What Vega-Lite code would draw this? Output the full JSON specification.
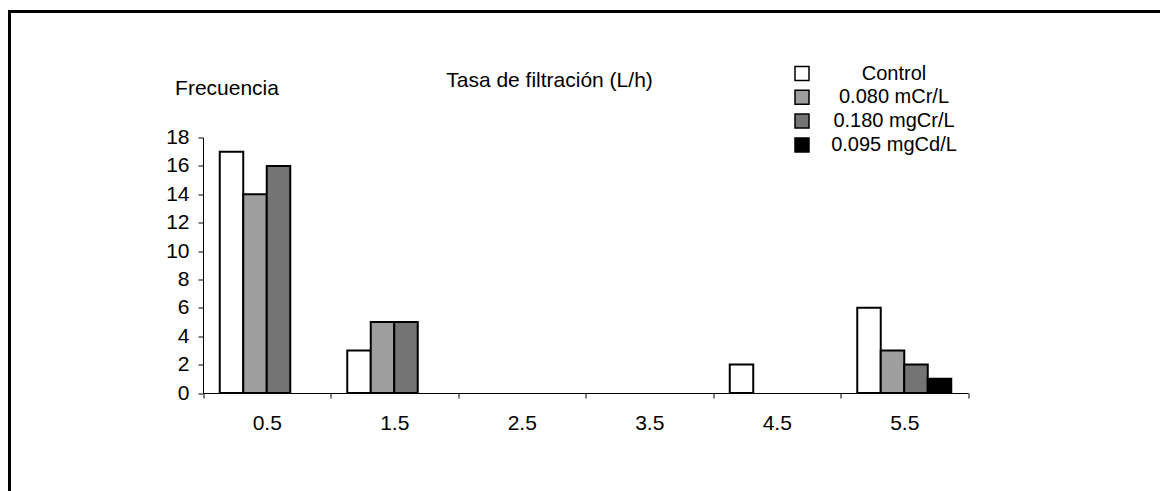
{
  "$schema": "https://vega.github.io/schema/vega-lite/v6.json",
  "width": 1165,
  "height": 495,
  "autosize": {"type": "none"},
  "padding": {"left": 9.5, "top": 11.5, "right": -14.5, "bottom": -15.5},
  "background": "white",
  "config": {
    "font": "Liberation Sans",
    "view": {"stroke": "black", "strokeWidth": 3, "fill": "white"}
  },
  "title": {
    "text": "Tasa de filtración (L/h)",
    "font": "Liberation Sans",
    "fontSize": 21,
    "fontWeight": "normal",
    "color": "black",
    "anchor": "start",
    "align": "center",
    "frame": "group",
    "offset": 0,
    "baseline": "middle",
    "dx": 540,
    "dy": 90.5
  },
  "data": {
    "values": [
      {"tasa": "0.5", "serie": "Control", "frecuencia": 17},
      {"tasa": "0.5", "serie": "0.080 mCr/L", "frecuencia": 14},
      {"tasa": "0.5", "serie": "0.180 mgCr/L", "frecuencia": 16},
      {"tasa": "1.5", "serie": "Control", "frecuencia": 3},
      {"tasa": "1.5", "serie": "0.080 mCr/L", "frecuencia": 5},
      {"tasa": "1.5", "serie": "0.180 mgCr/L", "frecuencia": 5},
      {"tasa": "4.5", "serie": "Control", "frecuencia": 2},
      {"tasa": "5.5", "serie": "Control", "frecuencia": 6},
      {"tasa": "5.5", "serie": "0.080 mCr/L", "frecuencia": 3},
      {"tasa": "5.5", "serie": "0.180 mgCr/L", "frecuencia": 2},
      {"tasa": "5.5", "serie": "0.095 mgCd/L", "frecuencia": 1}
    ]
  },
  "mark": {"type": "bar", "stroke": "black", "strokeWidth": 2},
  "encoding": {
    "x": {
      "field": "tasa",
      "type": "nominal",
      "sort": null,
      "scale": {
        "domain": ["0.5", "1.5", "2.5", "3.5", "4.5", "5.5"],
        "range": [193.5, 958.5],
        "paddingInner": 0,
        "paddingOuter": 0
      },
      "axis": {
        "orient": "bottom",
        "offset": -113.5,
        "title": null,
        "labelAngle": 0,
        "tickBand": "extent",
        "tickSize": 5,
        "tickColor": "black",
        "domainColor": "black",
        "labelFontSize": 21,
        "labelColor": "black",
        "labelPadding": 14
      }
    },
    "xOffset": {
      "field": "serie",
      "type": "nominal",
      "sort": null,
      "scale": {
        "domain": ["Control", "0.080 mCr/L", "0.180 mgCr/L", "0.095 mgCd/L"],
        "paddingInner": 0,
        "paddingOuter": 0.713
      }
    },
    "y": {
      "field": "frecuencia",
      "type": "quantitative",
      "scale": {"domain": [0, 18], "range": [381.5, 126], "nice": false},
      "axis": {
        "orient": "left",
        "offset": -193.5,
        "values": [0, 2, 4, 6, 8, 10, 12, 14, 16, 18],
        "grid": false,
        "tickSize": 5,
        "tickColor": "black",
        "domainColor": "black",
        "labelFontSize": 21,
        "labelColor": "black",
        "labelPadding": 9,
        "title": "Frecuencia",
        "titleFontSize": 21,
        "titleFontWeight": "normal",
        "titleColor": "black",
        "titleAngle": 0,
        "titleAlign": "center",
        "titleBaseline": "middle",
        "titleX": 23.5,
        "titleY": 76.5
      }
    },
    "fill": {
      "field": "serie",
      "type": "nominal",
      "scale": {
        "domain": ["Control", "0.080 mCr/L", "0.180 mgCr/L", "0.095 mgCd/L"],
        "range": ["#ffffff", "#9e9e9e", "#747474", "#000000"]
      },
      "legend": {
        "orient": "none",
        "legendX": 782.5,
        "legendY": 52,
        "title": null,
        "padding": 0,
        "symbolType": "square",
        "symbolSize": 196,
        "symbolStrokeColor": "black",
        "symbolStrokeWidth": 1.5,
        "symbolOpacity": 1,
        "labelFontSize": 20,
        "labelColor": "black",
        "labelAlign": "center",
        "labelOffset": 82,
        "labelLimit": 300,
        "rowPadding": 3.8
      }
    }
  }
}
